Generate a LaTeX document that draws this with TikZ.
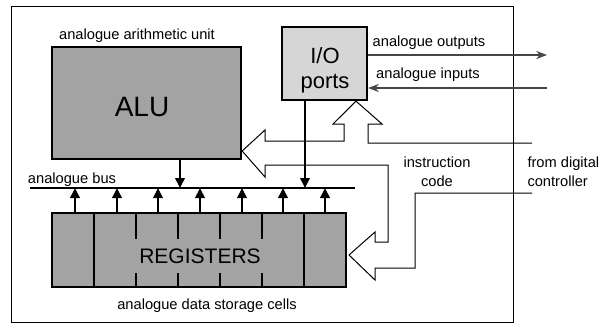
\documentclass[tikz,border=0pt]{standalone}
\usepackage{fontspec}
\setmainfont{Liberation Sans}
\usetikzlibrary{arrows.meta,fit}

\definecolor{unitgray}{RGB}{163,163,163}
\definecolor{portgray}{RGB}{214,214,214}
\definecolor{sigline}{RGB}{70,70,70}

\tikzset{every picture/.style={line width=0.75pt}}
\tikzset{
	unitbox/.style={draw, line width=1.7pt, fill=unitgray, inner sep=0pt},
	portbox/.style={draw, line width=1.7pt, fill=portgray, inner sep=0pt},
	smalltext/.style={inner sep=0.75pt, font=\fontsize{11}{14.25}\selectfont},
	bigtext/.style={inner sep=0.75pt, font=\fontsize{#1}{#1}\selectfont},
	busline/.style={line width=2pt},
	busarrow/.style={line width=2pt, -{Triangle[length=7.5pt,width=7pt]}},
	sigarrow/.style={line width=1.5pt, draw=sigline, -{Stealth[length=8pt,width=6pt]}},
	hollowarrow/.style={line width=0.75pt},
	outerframe/.style={line width=0.6pt}
}

\begin{document}
\begin{tikzpicture}[x=0.75pt,y=0.75pt,yscale=-1,xscale=1]
	\useasboundingbox (0,0) rectangle (600,326);
	
	%Shape: Rectangle [frame]
	\draw[outerframe] (11,6) rectangle (513,322);
	
	%Shape: Boxes
	\node[unitbox, fit={(52,47) (241,159)}] (alu) {};
	\node[portbox, fit={(282,27) (367,100)}] (io) {};
	\node[unitbox, fit={(52,213) (346,287)}] (reg) {};
	%Straight Lines [register cells]
	\foreach \cx in {94,136,178,220,262,304}
		\draw[line width=1.2pt] (reg.north -| \cx,0) -- (reg.south -| \cx,0);
	
	% Text Node
	\node[bigtext=21] (alutext) at (142,107) {ALU};
	% Text Node
	\node[inner sep=0.75pt, align=center, font=\fontsize{16.5}{18.75}\selectfont] (iotext) at (325,70) {I/O\\ports};
	% Text Node
	\node[bigtext=15.75, fill=unitgray, inner xsep=5pt, inner ysep=7pt] (regtext) at (200,256) {REGISTERS};
	
	%Straight Lines [bus]
	\coordinate (busW) at (30,188);
	\coordinate (busE) at (355,188);
	\draw[busline] (busW) -- (busE);
	\draw[busarrow] (alu.south -| 180,0) -- (busW -| 180,0);
	\draw[busarrow] (io.south -| 305,0) -- (busW -| 305,0);
	\foreach \bx in {75,117,158,200,242,283,325}
		\draw[busarrow] (reg.north -| \bx,0) -- (busW -| \bx,0);
	
	%Straight Lines [outputs and inputs]
	\coordinate (outE) at (547,55);
	\coordinate (inE) at (547,88);
	\draw[sigarrow] (io.east |- outE) -- (outE);
	\draw[sigarrow] (inE) -- (io.east |- inE);
	
	%Shape: Polygon [instruction code arrows]
	\draw[hollowarrow] (532,143) -- (368,143) -- (368,124) -- (382,124) -- (io.south -| 356,0) -- (333,124) -- (344,124) -- (344,141) -- (265,141) -- (265,130) -- (alu.east |- 0,151) -- (265,177) -- (265,165) -- (388,165) -- (388,242) -- (375,242) -- (375,232) -- (349,255) -- (375,280) -- (375,268) -- (415,268) -- (415,193) -- (532,193);
	
	% Text Node
	\node[smalltext] (aluname) at (137,36) {analogue arithmetic unit};
	% Text Node
	\node[smalltext] (outname) at (429,43) {analogue outputs};
	% Text Node
	\node[smalltext] (inname) at (428,75) {analogue inputs};
	% Text Node
	\node[smalltext, align=center] (instr) at (437,172) {instruction\\code};
	% Text Node
	\node[smalltext, align=left, anchor=west] (ctrl) at (526,172) {from digital\\controller};
	% Text Node
	\node[smalltext] (busname) at (72,180) {analogue bus};
	% Text Node
	\node[smalltext] (regname) at (207,306) {analogue data storage cells};
	
\end{tikzpicture}
\end{document}
